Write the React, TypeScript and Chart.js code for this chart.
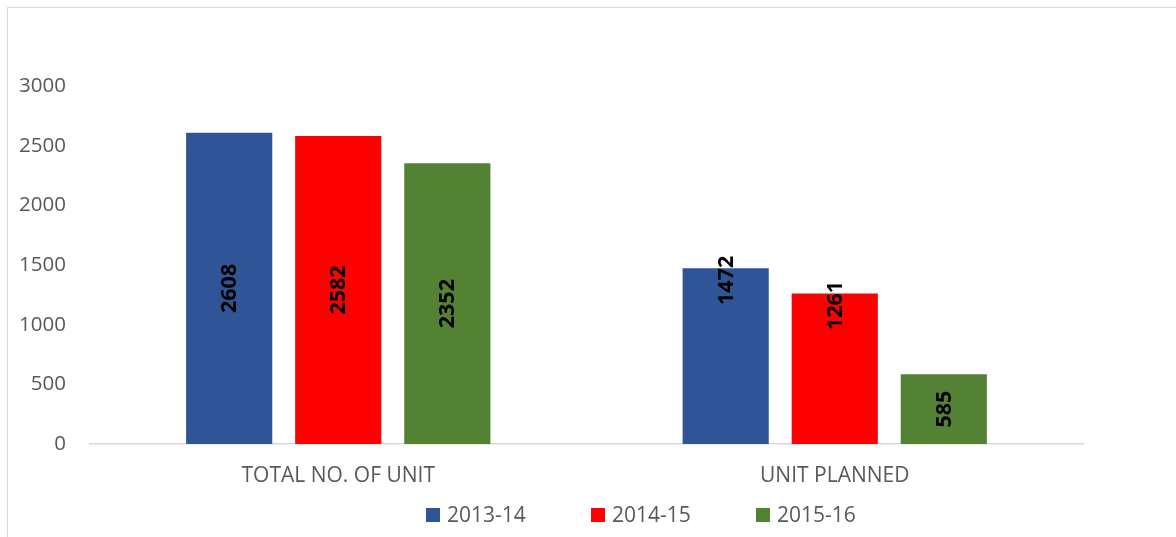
import React, { useEffect, useRef } from "react";
import { Chart, registerables } from "chart.js";

Chart.register(...registerables);

const categories = ["TOTAL NO. OF UNIT", "UNIT PLANNED"];
const seriesNames = ["2013-14", "2014-15", "2015-16"];
const values2013 = [2608, 1472];
const values2014 = [2582, 1261];
const values2015 = [2352, 585];
const seriesColors = ["#2F5597", "#FF0000", "#548235"];
// where each value label sits in its bar: "center" or "top"
const labelPlace2013 = ["center", "top"];
const labelPlace2014 = ["center", "top"];
const labelPlace2015 = ["center", "center"];
const yTicks = [0, 500, 1000, 1500, 2000, 2500, 3000];

const FONT = "'Open Sans', sans-serif";

const valueLabelPlugin = {
  id: "valueLabels",
  afterDatasetsDraw(chart: any) {
    const ctx = chart.ctx;
    ctx.save();
    ctx.font = `bold 21.5px ${FONT}`;
    ctx.fillStyle = "#000000";
    ctx.textAlign = "center";
    ctx.textBaseline = "middle";
    chart.data.datasets.forEach((ds: any, di: number) => {
      const meta = chart.getDatasetMeta(di);
      meta.data.forEach((bar: any, i: number) => {
        const place = ds.labelPlace ? ds.labelPlace[i] : "center";
        const cy = place === "top" ? bar.y + 12 : (bar.y + bar.base) / 2;
        ctx.save();
        ctx.translate(bar.x, cy);
        ctx.rotate(-Math.PI / 2);
        ctx.fillText(String(ds.data[i]), 0, 1);
        ctx.restore();
      });
    });
    ctx.restore();
  },
};

const legendPlugin = {
  id: "bottomLegend",
  afterDraw(chart: any) {
    const ctx = chart.ctx;
    const stride = 165;
    const n = chart.data.datasets.length;
    const centerX = 641;
    const cy = 515;
    const box = 14;
    const startX = centerX - ((n - 1) * stride) / 2 - 50;
    ctx.save();
    ctx.font = `21px ${FONT}`;
    ctx.textBaseline = "middle";
    ctx.textAlign = "left";
    chart.data.datasets.forEach((ds: any, i: number) => {
      const x = startX + i * stride;
      ctx.fillStyle = ds.backgroundColor;
      ctx.fillRect(x, cy - box / 2, box, box);
      ctx.fillStyle = "#595959";
      ctx.fillText(ds.label, x + box + 7, cy + 1);
    });
    ctx.restore();
  },
};

export default function App() {
  const canvasRef = useRef<HTMLCanvasElement | null>(null);

  useEffect(() => {
    if (!canvasRef.current) return;
    const chart = new Chart(canvasRef.current, {
      type: "bar",
      data: {
        labels: categories,
        datasets: [
          { label: seriesNames[0], data: values2013, backgroundColor: seriesColors[0], labelPlace: labelPlace2013 } as any,
          { label: seriesNames[1], data: values2014, backgroundColor: seriesColors[1], labelPlace: labelPlace2014 } as any,
          { label: seriesNames[2], data: values2015, backgroundColor: seriesColors[2], labelPlace: labelPlace2015 } as any,
        ],
      },
      options: {
        responsive: false,
        animation: false,
        events: [],
        layout: { padding: { top: 86, right: 93, left: 0, bottom: 0 } },
        datasets: { bar: { categoryPercentage: 0.659, barPercentage: 0.79 } },
        plugins: {
          legend: { display: false },
          tooltip: { enabled: false },
          title: { display: false },
        },
        scales: {
          x: {
            grid: { display: false, drawTicks: false },
            border: { display: true, color: "#D9D9D9", width: 1.5 },
            ticks: { color: "#595959", font: { family: FONT, size: 21 }, padding: 19, maxRotation: 0 },
            afterFit: (scale: any) => {
              scale.height = 93;
            },
          },
          y: {
            min: 0,
            max: 3000,
            afterBuildTicks: (scale: any) => {
              scale.ticks = yTicks.map((v) => ({ value: v }));
            },
            grid: { display: false, drawTicks: false },
            border: { display: false },
            ticks: {
              color: "#595959",
              font: { family: FONT, size: 20.5 },
              padding: 24,
              callback: (v: any) => String(v),
            },
            afterFit: (scale: any) => {
              scale.width = 90;
            },
          },
        },
      },
      plugins: [valueLabelPlugin, legendPlugin],
    });
    return () => chart.destroy();
  }, []);

  return (
    <div style={{ position: "fixed", left: 0, top: 0, width: 1176, height: 537, background: "#ffffff", overflow: "hidden" }}>
      <div
        style={{
          position: "absolute",
          left: 7,
          top: 7,
          width: 1200,
          height: 600,
          border: "1px solid #D9D9D9",
        }}
      />
      <canvas ref={canvasRef} width={1176} height={537} style={{ position: "absolute", left: 0, top: 0, width: 1176, height: 537 }} />
    </div>
  );
}
